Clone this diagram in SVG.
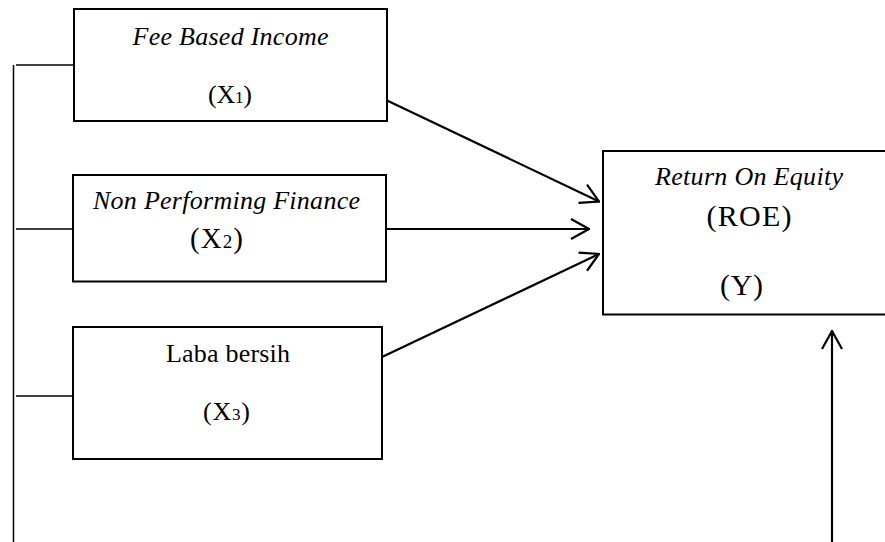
<svg xmlns="http://www.w3.org/2000/svg" width="885" height="542" viewBox="0 0 885 542">
<style>
.box{fill:#fff;stroke:#000;stroke-width:2}
.ln{stroke:#000;stroke-width:1.5;fill:none}
.ar{stroke:#000;stroke-width:2.2;fill:none}
.t{font-family:"Liberation Serif","Times New Roman",serif;fill:#000;text-anchor:middle}
.i{font-style:italic}
</style>
<defs>
<marker id="ah" viewBox="0 0 20 22" refX="19" refY="11" markerWidth="20" markerHeight="22" markerUnits="userSpaceOnUse" orient="auto">
<path d="M1,1 L19,11 L1,21" fill="none" stroke="#000" stroke-width="2.2"/>
</marker>
</defs>
<rect width="885" height="542" fill="#fff"/>
<g id="connectors">
<line class="ln" x1="13.5" y1="65" x2="13.5" y2="542"/>
<line class="ln" x1="16" y1="65" x2="74" y2="65"/>
<line class="ln" x1="16" y1="229" x2="73" y2="229"/>
<line class="ln" x1="16" y1="396" x2="73" y2="396"/>
<line class="ar" x1="386" y1="100" x2="599" y2="201.5" marker-end="url(#ah)"/>
<line class="ar" x1="386" y1="229" x2="589" y2="229" marker-end="url(#ah)"/>
<line class="ar" x1="382" y1="357" x2="599" y2="254" marker-end="url(#ah)"/>
<line class="ar" x1="832" y1="542" x2="832" y2="331" marker-end="url(#ah)"/>
</g>
<g id="x1">
<rect class="box" x="74" y="9" width="313" height="112"/>
<text class="t i" x="230.5" y="45" font-size="26" textLength="196" lengthAdjust="spacing">Fee Based Income</text>
<text class="t" x="230" y="103" font-size="26" textLength="44" lengthAdjust="spacing">(X<tspan font-size="17">1</tspan>)</text>
</g>
<g id="x2">
<rect class="box" x="73" y="175" width="313" height="106.5"/>
<text class="t i" x="226.5" y="209" font-size="26" textLength="267" lengthAdjust="spacing">Non Performing Finance</text>
<text class="t" x="216.5" y="248" font-size="29" textLength="53" lengthAdjust="spacing">(X<tspan font-size="19">2</tspan>)</text>
</g>
<g id="x3">
<rect class="box" x="73" y="327" width="309" height="132"/>
<text class="t" x="228" y="362" font-size="26" textLength="124" lengthAdjust="spacing">Laba bersih</text>
<text class="t" x="226.5" y="420" font-size="26" textLength="47" lengthAdjust="spacing">(X<tspan font-size="17">3</tspan>)</text>
</g>
<g id="y">
<rect class="box" x="603" y="151" width="290" height="163.5"/>
<text class="t i" x="749" y="185" font-size="26" textLength="188" lengthAdjust="spacing">Return On Equity</text>
<text class="t" x="749" y="226" font-size="30" textLength="85" lengthAdjust="spacing">(ROE)</text>
<text class="t" x="741.5" y="295" font-size="30" textLength="43" lengthAdjust="spacing">(Y)</text>
</g>
</svg>
